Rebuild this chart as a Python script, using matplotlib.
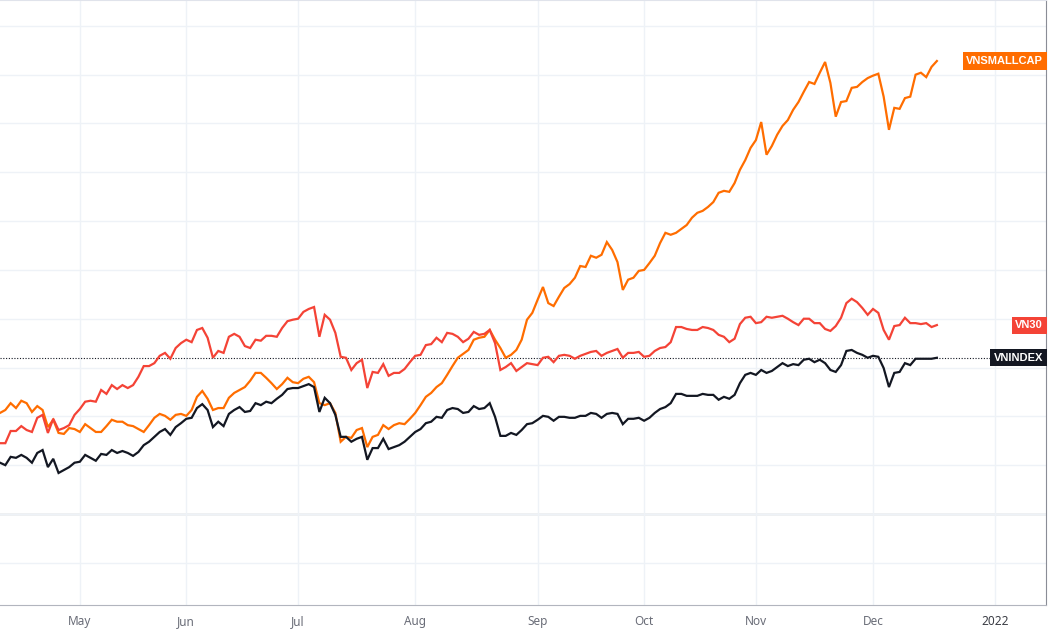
import numpy as np
import matplotlib
matplotlib.use("Agg")
import matplotlib.pyplot as plt
import matplotlib.transforms as mtransforms

# % change per trading session (Apr 2021 -> mid Dec 2021)
vnsmallcap = [20.7, 21.3, 22.7, 21.7, 23.2, 22.7, 20.9, 22.1, 21.3, 17.8,
              19.3, 16.6, 16.4, 17.6, 17.4, 16.8, 18.4, 17.6, 16.8, 16.8,
              18.0, 19.3, 18.9, 18.9, 18.2, 18.0, 17.4, 16.8, 18.2, 19.7,
              20.5, 20.1, 19.3, 20.3, 20.5, 20.1, 21.3, 24.0, 25.2, 23.6,
              21.3, 21.7, 21.7, 23.8, 24.8, 25.4, 26.0, 27.3, 28.9, 28.9,
              27.9, 26.8, 25.6, 26.6, 27.9, 27.0, 26.8, 27.7, 28.1, 27.0,
              22.7, 22.3, 22.7, 20.7, 14.8, 15.8, 15.6, 17.2, 17.6, 13.7,
              15.8, 16.2, 18.2, 17.4, 18.2, 18.6, 18.4, 19.5, 20.7, 22.3,
              24.0, 24.8, 26.0, 26.8, 28.5, 30.3, 32.0, 32.8, 33.6, 35.7,
              36.1, 36.3, 37.7, 35.7, 34.0, 32.0, 32.6, 33.6, 35.7, 39.8,
              41.2, 43.9, 46.5, 43.2, 42.6, 44.5, 46.3, 47.1, 48.4, 50.8,
              50.6, 52.9, 52.5, 53.1, 55.7, 54.1, 51.6, 45.9, 48.0, 48.4,
              49.8, 50.0, 51.4, 52.9, 55.5, 57.6, 57.2, 57.6, 58.4, 59.2,
              60.7, 61.7, 62.1, 62.9, 63.9, 65.8, 66.2, 66.0, 67.8, 70.5,
              72.5, 75.0, 76.6, 80.3, 73.6, 75.4, 77.7, 79.5, 80.7, 82.8,
              84.4, 86.5, 88.5, 88.1, 90.4, 92.6, 88.3, 81.4, 84.4, 84.6,
              87.3, 87.5, 88.5, 89.3, 89.8, 90.2, 85.5, 78.7, 83.2, 83.0,
              85.2, 85.5, 90.0, 90.4, 89.5, 91.6, 92.8]

vn30 = [14.5, 14.5, 17.0, 17.0, 18.0, 17.2, 16.8, 19.7, 20.3, 16.6,
        19.5, 17.2, 17.6, 18.2, 20.3, 21.5, 23.0, 23.2, 23.0, 25.4,
        24.6, 26.4, 25.6, 26.4, 25.8, 26.4, 28.1, 30.3, 30.3, 30.9,
        32.4, 33.0, 31.8, 34.0, 35.0, 35.7, 35.2, 37.7, 38.1, 36.1,
        32.0, 33.4, 33.0, 36.3, 36.9, 36.3, 34.4, 34.0, 35.7, 35.5,
        36.5, 36.5, 36.3, 38.1, 39.5, 39.8, 40.0, 41.4, 42.0, 42.4,
        36.3, 40.8, 39.8, 37.1, 32.2, 32.0, 29.5, 30.9, 31.6, 25.8,
        29.1, 28.9, 30.7, 28.3, 28.9, 28.9, 29.7, 31.1, 32.4, 32.6,
        34.6, 34.8, 36.1, 35.2, 37.1, 36.9, 36.3, 35.2, 35.9, 37.3,
        36.7, 36.9, 37.7, 35.0, 29.5, 30.1, 30.9, 29.3, 30.1, 30.9,
        30.7, 30.5, 32.0, 32.2, 31.1, 32.4, 32.6, 32.4, 31.8, 32.4,
        32.8, 33.2, 33.4, 32.4, 33.0, 33.4, 33.8, 32.0, 33.0, 33.0,
        33.2, 32.2, 32.4, 33.4, 34.0, 34.2, 35.2, 38.3, 38.3, 37.9,
        37.7, 37.7, 38.3, 38.1, 37.7, 36.7, 36.3, 35.2, 35.9, 38.9,
        40.2, 40.4, 39.1, 39.3, 40.4, 40.2, 40.4, 40.6, 40.0, 39.3,
        38.7, 40.0, 40.0, 39.1, 39.1, 37.9, 37.5, 38.5, 40.2, 43.2,
        44.1, 43.4, 42.2, 40.8, 42.0, 41.2, 37.7, 35.7, 38.5, 38.7,
        40.2, 39.1, 39.1, 38.9, 39.1, 38.3, 38.7]

vnindex = [10.5, 10.0, 11.7, 11.5, 12.1, 11.5, 10.5, 12.5, 13.1, 9.6,
           11.3, 8.4, 9.0, 9.6, 10.5, 10.7, 12.1, 11.5, 10.9, 12.3,
           12.1, 13.1, 12.5, 12.9, 12.5, 11.9, 12.7, 14.1, 14.8, 15.8,
           16.8, 17.4, 16.2, 17.8, 18.6, 19.5, 19.7, 21.7, 22.5, 21.3,
           17.8, 18.9, 18.0, 20.5, 21.3, 21.9, 20.9, 21.1, 22.7, 22.3,
           23.0, 22.7, 23.6, 24.4, 25.6, 25.8, 25.8, 26.2, 26.6, 26.0,
           20.9, 23.8, 22.7, 20.3, 15.8, 15.8, 14.8, 15.4, 15.8, 11.1,
           13.5, 13.5, 15.4, 13.3, 13.7, 14.1, 14.8, 15.8, 16.8, 17.4,
           18.6, 18.9, 19.9, 19.7, 21.3, 21.7, 21.5, 20.7, 20.9, 22.1,
           21.5, 21.7, 22.7, 19.9, 16.0, 16.0, 16.6, 16.2, 17.2, 18.4,
           18.6, 19.3, 20.1, 19.9, 19.1, 19.9, 19.9, 19.7, 19.7, 20.1,
           20.1, 20.7, 20.5, 19.7, 20.5, 20.7, 20.5, 18.4, 19.5, 19.5,
           19.7, 19.1, 19.7, 20.7, 21.5, 21.9, 22.7, 24.6, 24.6, 24.2,
           24.2, 24.2, 24.6, 24.4, 24.4, 23.4, 24.0, 23.6, 24.4, 26.8,
           28.5, 28.9, 28.5, 29.5, 28.9, 29.3, 30.1, 30.9, 30.3, 30.7,
           30.5, 31.6, 31.8, 31.1, 31.6, 30.9, 29.5, 29.1, 30.5, 33.4,
           33.6, 33.0, 32.6, 32.0, 32.4, 32.2, 29.9, 26.0, 28.9, 29.1,
           30.9, 30.5, 31.8, 31.8, 31.8, 31.8, 32.0]

# session index of the first bar of each month
month_pos = [15, 35, 56, 78, 101, 121, 142, 164, 187]
month_labels = ["May", "Jun", "Jul", "Aug", "Sep", "Oct", "Nov", "Dec", "2022"]

series = [
    ("VNSMALLCAP", vnsmallcap, "#FF6D00"),
    ("VN30", vn30, "#F44336"),
    ("VNINDEX", vnindex, "#131722"),
]

fig = plt.figure(figsize=(10.5, 6.3), dpi=100)
ax = fig.add_axes([0, 25 / 630, 1046 / 1050, 605 / 630])

ax.set_xlim(0, 196.5)
ax.set_ylim(-18.65, 105.3)

# grid
ax.set_yticks(range(-10, 101, 10))
ax.set_xticks(month_pos)
ax.grid(True, color="#eef2f7", linewidth=1)
ax.axhline(0, color="#b2b5be", linewidth=1, zorder=1)

# last value line for the main symbol
ax.axhline(vnindex[-1], color="#131722", linewidth=0.8, linestyle=(0, (1, 1.5)), zorder=2)

for name, vals, color in series:
    x = np.arange(len(vals))
    ax.plot(x, vals, color=color, linewidth=1.6, zorder=3, solid_joinstyle="miter")

# value labels on the price scale
trans = mtransforms.blended_transform_factory(ax.transAxes, ax.transData)
for name, vals, color in series:
    ax.text(0.9972, vals[-1], name, transform=trans, ha="right", va="center",
            fontsize=8, color="white", family="Liberation Sans", fontweight="bold",
            clip_on=False, zorder=5,
            bbox=dict(boxstyle="square,pad=0.32", fc=color, ec="none"))

ax.set_yticklabels([])
ax.tick_params(axis="y", length=0)
ax.tick_params(axis="x", length=0, pad=7)
ax.set_xticklabels(month_labels, fontsize=8.5, color="#6a6d78", family="Noto Sans")
lbl = ax.get_xticklabels()[-1]
lbl.set_fontweight("bold")
lbl.set_color("#3b3d45")

ax.spines["left"].set_visible(False)
ax.spines["top"].set_color("#e0e3eb")
ax.spines["bottom"].set_color("#b2b5be")
ax.spines["right"].set_color("#8a8d96")

fig.savefig("out.png", dpi=100)
